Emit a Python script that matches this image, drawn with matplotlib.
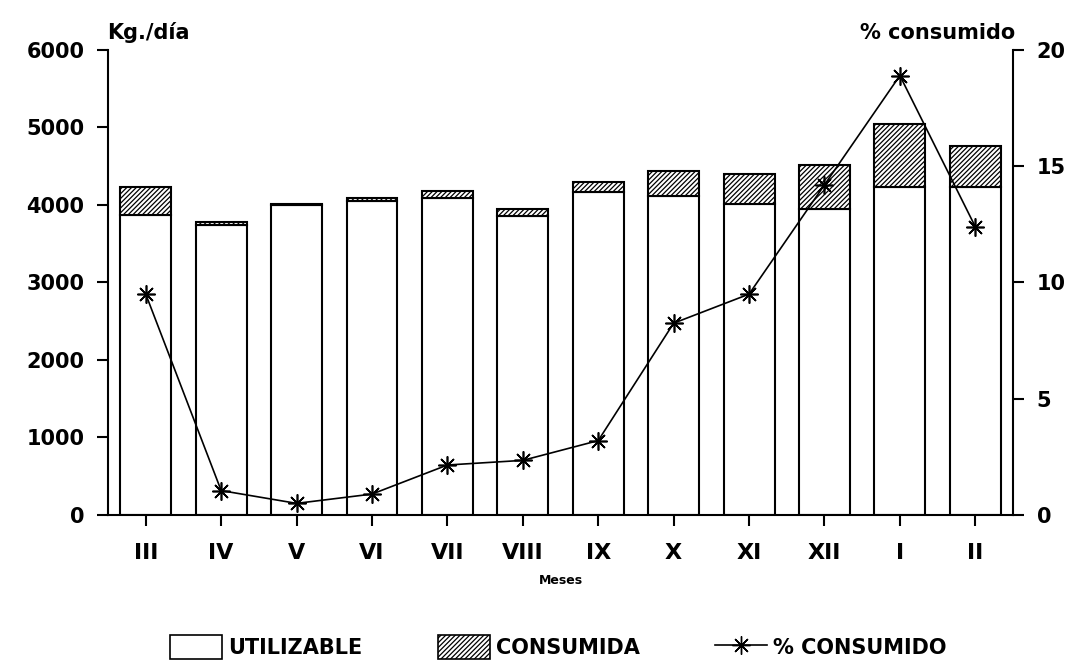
import matplotlib.pyplot as plt
import matplotlib as mpl
from matplotlib.lines import Line2D
from matplotlib.patches import Patch

meses = ['III', 'IV', 'V', 'VI', 'VII', 'VIII', 'IX', 'X', 'XI', 'XII', 'I', 'II']
# kg/dia
utilizable = [3870, 3745, 4000, 4050, 4095, 3860, 4165, 4115, 4015, 3950, 4235, 4235]
total = [4235, 3785, 4010, 4085, 4185, 3950, 4300, 4445, 4400, 4515, 5045, 4760]
consumida = [t - u for t, u in zip(total, utilizable)]
# % consumido
pct = [9.5, 1.05, 0.5, 0.9, 2.15, 2.35, 3.2, 8.25, 9.5, 14.2, 18.9, 12.4]

mpl.rcParams['font.family'] = ['DejaVu Sans']
mpl.rcParams['font.weight'] = 'bold'
mpl.rcParams['hatch.linewidth'] = 0.9

fig = plt.figure(figsize=(10.74, 6.64), dpi=100)
ax = fig.add_axes([0.1006, 0.2244, 0.8426, 0.7003])
x = list(range(len(meses)))

ax.bar(x, utilizable, width=0.675, color='white', edgecolor='black', linewidth=1.5, zorder=2)
ax.bar(x, consumida, bottom=utilizable, width=0.675, color='white', edgecolor='black',
       hatch='///////', linewidth=1.5, zorder=2)

ax.set_xlim(-0.5, 11.5)
ax.set_ylim(0, 6000)
ax.set_yticks([0, 1000, 2000, 3000, 4000, 5000, 6000])
ax.set_xticks(x)
ax.set_xticklabels(meses, fontsize=16)
ax.spines['top'].set_visible(False)
ax.spines['right'].set_visible(False)
for s in ['left', 'bottom']:
    ax.spines[s].set_linewidth(1.5)
ax.tick_params(axis='y', labelsize=15, width=1.5, length=8, pad=9)
ax.tick_params(axis='x', width=1.5, length=8, pad=12)
ax.set_xlabel('Meses', fontsize=9, fontweight='bold', labelpad=8)

ax2 = ax.twinx()
ax2.plot(x, pct, color='black', linewidth=1.2, marker=(8, 2, 0), markersize=13,
         markeredgewidth=1.2, zorder=3)
ax2.set_ylim(0, 20)
ax2.set_yticks([0, 5, 10, 15, 20])
ax2.spines['top'].set_visible(False)
ax2.spines['left'].set_visible(False)
ax2.spines['bottom'].set_visible(False)
ax2.spines['right'].set_linewidth(1.5)
ax2.tick_params(axis='y', labelsize=15, width=1.5, length=8, pad=9)

fig.text(0.1, 0.935, 'Kg./día', fontsize=15, fontweight='bold', ha='left', va='bottom')
fig.text(0.945, 0.935, '% consumido', fontsize=15, fontweight='bold', ha='right', va='bottom')

handles = [
    Patch(facecolor='white', edgecolor='black', linewidth=1.2),
    Patch(facecolor='white', edgecolor='black', hatch='///////', linewidth=1.2),
    Line2D([0], [0], color='black', linewidth=1.2, marker=(8, 2, 0), markersize=13),
]
fig.legend(handles, ['UTILIZABLE', 'CONSUMIDA', '% CONSUMIDO'], loc='center',
           bbox_to_anchor=(0.52, 0.025), ncol=3, frameon=False, fontsize=15,
           handlelength=2.5, handleheight=1.4, handletextpad=0.3, columnspacing=3.6)

fig.savefig('out.png', dpi=100)
